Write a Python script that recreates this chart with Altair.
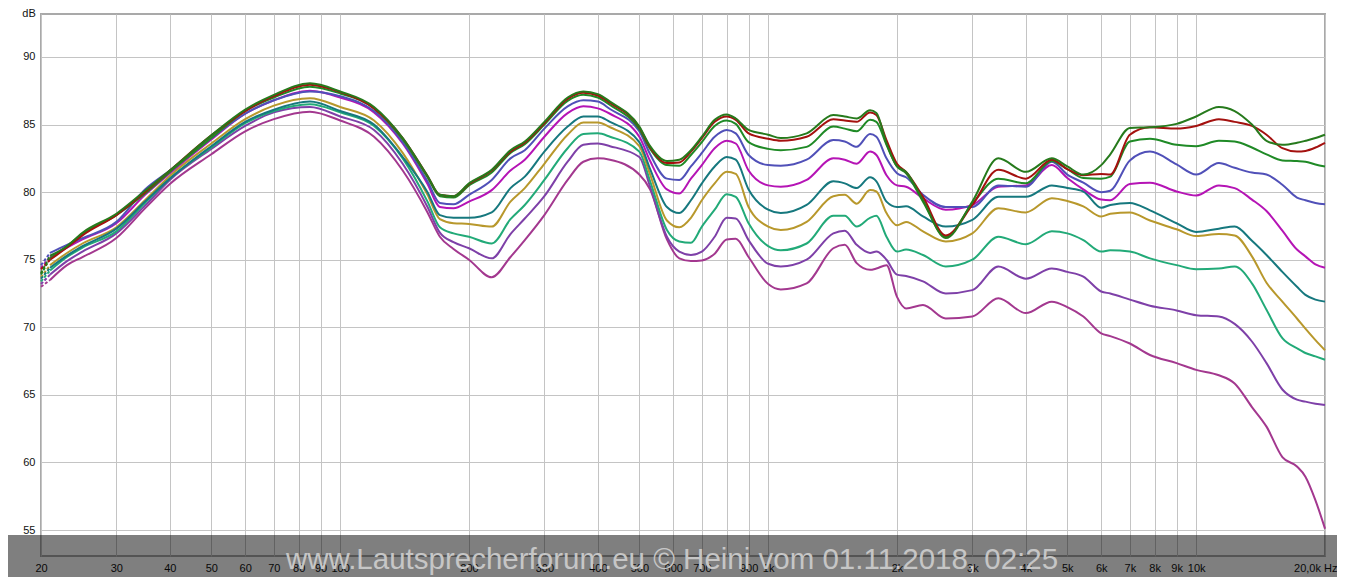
import altair as alt
import pandas as pd

FREQ = [20, 21, 23, 25, 30, 35, 40, 50, 60, 70, 85,
        100, 120, 140, 160, 171, 184, 200, 226, 250, 270,
        300, 340, 370, 400, 427, 500, 530, 580, 620, 660,
        700, 750, 800, 840, 900, 1000, 1070, 1230, 1420, 1510,
        1610, 1730, 1790, 1890, 2000, 2100, 2300, 2600, 3000, 3450,
        4000, 4600, 5000, 5450, 6000, 6300, 7000, 7800, 9000, 10000,
        11300, 12300, 13500, 14600, 15900, 17200, 18000, 19000, 20000]

G1 = [74.0, 75.3, 76.0, 77.0, 78.4, 80.1, 81.6, 84.2, 86.1, 87.2, 88.05,
      87.45, 86.3, 84.0, 81.2, 79.8, 79.7, 80.65, 81.65, 83.1, 83.75,
      85.2, 87.0, 87.45, 87.25, 86.7, 84.85, 83.4, 82.3, 82.4, 83.1,
      84.1, 85.35, 85.75, 85.45, 84.6, 84.25, 84.0, 84.35, 85.7, 85.6,
      85.45, 86.05, 85.85, 83.6, 81.9, 81.5, 79.4, 76.6, 79.3, 82.5,
      81.5, 82.5, 81.9, 81.3, 82.0, 82.8, 84.75, 84.8, 85.05, 85.6,
      86.3, 86.0, 85.0, 83.8, 83.5, 83.65, 83.8, 84.0, 84.25]

R = [74.3, 75.0, 75.9, 76.8, 78.3, 80.0, 81.6, 84.2, 86.0, 87.1, 87.95,
     87.4, 86.2, 84.0, 81.2, 79.8, 79.7, 80.6, 81.6, 83.0, 83.65,
     85.1, 86.9, 87.35, 87.15, 86.6, 84.8, 83.3, 82.15, 82.2, 83.0,
     84.0, 85.2, 85.6, 85.35, 84.35, 83.95, 83.8, 84.1, 85.4, 85.3,
     85.2, 85.9, 85.7, 83.85, 82.1, 81.5, 79.65, 76.8, 79.05, 81.65,
     81.0, 82.4, 81.7, 81.25, 81.35, 81.3, 84.25, 84.8, 84.7, 84.9,
     85.4, 85.2, 84.9, 84.25, 83.25, 83.0, 83.05, 83.3, 83.65]

G2 = [73.9, 75.1, 76.0, 76.9, 78.3, 79.9, 81.5, 84.0, 86.0, 87.0, 87.8,
      87.3, 86.2, 83.9, 81.1, 79.7, 79.6, 80.5, 81.45, 82.9, 83.55,
      85.0, 86.75, 87.2, 87.0, 86.45, 84.65, 83.2, 82.0, 81.95, 82.75,
      83.7, 84.9, 85.3, 85.05, 83.7, 83.2, 83.1, 83.35, 84.85, 84.7,
      84.5, 85.35, 85.2, 83.5, 81.9, 81.4, 79.3, 76.7, 79.15, 81.0,
      80.65, 82.3, 81.7, 81.05, 81.0, 81.15, 83.75, 83.95, 83.5, 83.4,
      83.8, 83.75, 83.3, 82.8, 82.35, 82.3, 82.25, 82.05, 81.9]

B = [74.6, 75.5, 76.1, 76.6, 77.8, 80.2, 81.6, 84.0, 85.8, 86.8, 87.45,
     87.1, 86.0, 83.7, 80.8, 79.2, 79.1, 79.8, 80.9, 82.5, 83.1,
     84.7, 86.35, 86.8, 86.7, 86.15, 84.5, 82.8, 81.0, 80.9, 81.9,
     82.9, 84.1, 84.6, 84.35, 82.75, 82.0, 81.95, 82.4, 83.85, 83.75,
     83.35, 84.3, 84.1, 82.5, 81.4, 81.1, 79.8, 78.9, 78.9, 80.5,
     80.4, 82.25, 81.3, 80.7, 80.0, 80.1, 82.35, 83.0, 82.05, 81.3,
     82.15, 81.8, 81.45, 81.3, 80.55, 79.6, 79.4, 79.2, 79.1]

M = [74.4, 75.2, 75.9, 76.5, 77.7, 79.8, 81.4, 83.9, 85.8, 86.8, 87.5,
     87.0, 85.9, 83.6, 80.6, 78.9, 78.8, 79.3, 80.15, 81.6, 82.4,
     84.1, 85.85, 86.35, 86.2, 85.8, 84.1, 82.3, 80.2, 79.9, 81.0,
     82.0, 83.25, 83.8, 83.6, 81.6, 80.5, 80.4, 80.9, 82.5, 82.4,
     82.1, 83.0, 82.75, 81.25, 80.5, 80.4, 79.55, 78.7, 79.05, 80.4,
     80.5, 82.0, 81.05, 80.2, 79.45, 79.4, 80.6, 80.7, 80.05, 79.75,
     80.5, 80.3, 79.45, 78.6, 77.15, 75.75, 75.25, 74.65, 74.4]

T = [73.6, 74.4, 75.3, 76.0, 77.3, 79.3, 81.0, 83.4, 85.2, 86.1, 86.7,
     86.0, 85.0, 82.6, 80.0, 78.3, 78.1, 78.1, 78.5, 80.3, 81.15,
     83.0, 84.85, 85.6, 85.6, 85.2, 83.7, 81.7, 78.9, 78.45, 79.4,
     80.65, 81.9, 82.6, 82.4, 80.2, 78.7, 78.45, 79.05, 80.8, 80.65,
     80.3, 81.1, 80.8, 79.3, 78.9, 78.95, 78.2, 77.45, 77.95, 79.65,
     79.65, 80.5, 80.3, 80.05, 78.85, 79.05, 79.2, 78.65, 77.7, 77.05,
     77.3, 77.45, 76.4, 75.35, 74.1, 73.0, 72.4, 72.05, 71.9]

Y = [73.7, 74.6, 75.5, 76.2, 77.4, 79.4, 81.2, 83.6, 85.4, 86.4, 86.95,
     86.3, 85.3, 82.9, 79.8, 78.0, 77.7, 77.65, 77.45, 79.3, 80.3,
     82.1, 84.25, 85.15, 85.15, 84.8, 83.4, 81.3, 77.9, 77.4, 78.1,
     79.4, 80.65, 81.5, 81.35, 78.9, 77.45, 77.2, 77.8, 79.7, 79.8,
     79.15, 80.15, 80.05, 78.45, 77.55, 77.8, 77.1, 76.35, 76.95, 78.8,
     78.5, 79.55, 79.35, 78.95, 78.2, 78.4, 78.5, 77.9, 77.25, 76.75,
     76.9, 76.8, 75.25, 73.3, 71.9, 70.65, 69.9, 69.05, 68.3]

S = [73.4, 74.2, 75.2, 75.9, 77.1, 79.2, 81.0, 83.3, 85.1, 86.0, 86.5,
     85.9, 84.9, 82.5, 79.3, 77.4, 76.95, 76.7, 76.2, 78.0, 79.05,
     80.9, 83.25, 84.3, 84.35, 84.1, 83.0, 80.8, 77.2, 76.35, 76.25,
     77.45, 78.7, 79.85, 79.65, 77.7, 76.0, 75.7, 76.2, 78.25, 78.25,
     77.45, 78.1, 78.25, 76.7, 75.6, 75.75, 75.35, 74.5, 75.0, 76.7,
     76.15, 77.1, 76.95, 76.45, 75.6, 75.7, 75.6, 75.1, 74.6, 74.3,
     74.35, 74.5, 73.25, 71.3, 69.2, 68.45, 68.1, 67.85, 67.6]

P = [73.2, 73.9, 74.9, 75.6, 76.95, 79.0, 80.9, 83.2, 84.9, 85.9, 86.3,
     85.6, 84.6, 82.1, 78.9, 77.0, 76.3, 75.85, 75.1, 76.9, 78.05,
     79.7, 82.25, 83.5, 83.6, 83.4, 82.6, 80.4, 76.7, 75.6, 75.35,
     75.6, 76.7, 78.1, 78.05, 76.45, 74.7, 74.5, 75.0, 76.95, 77.15,
     76.1, 75.5, 75.6, 75.0, 73.9, 73.8, 73.4, 72.5, 72.75, 74.5,
     73.6, 74.35, 74.1, 73.75, 72.65, 72.5, 72.05, 71.6, 71.25, 70.9,
     70.8, 70.25, 68.95, 67.35, 65.4, 64.65, 64.5, 64.35, 64.25]

K = [73.0, 73.5, 74.6, 75.2, 76.6, 78.8, 80.6, 82.8, 84.5, 85.4, 85.95,
     85.3, 84.1, 81.6, 78.5, 76.7, 75.8, 75.0, 73.7, 75.2, 76.45,
     78.3, 80.9, 82.25, 82.5, 82.4, 81.3, 80.2, 76.5, 75.1, 74.9,
     74.95, 75.45, 76.5, 76.55, 75.2, 73.2, 72.8, 73.25, 75.85, 76.1,
     74.75, 74.25, 74.35, 74.6, 72.25, 71.4, 71.65, 70.65, 70.8, 72.15,
     71.05, 71.9, 71.5, 70.8, 69.55, 69.35, 68.8, 67.95, 67.35, 66.85,
     66.45, 65.85, 64.1, 62.65, 60.4, 59.7, 58.95, 57.2, 55.1]

NAMES = ["K", "P", "S", "Y", "T", "M", "B", "G2", "R", "G1"]
SERIES = [K, P, S, Y, T, M, B, G2, R, G1]
COLORS = ["#a3388f", "#7e40a8", "#22aa78", "#b8982c", "#16787e",
          "#b514b5", "#5050b8", "#1f8a26", "#a4110f", "#267a1c"]

X_TICKS = [20, 30, 40, 50, 60, 70, 80, 90, 100, 200, 300, 400, 500, 600, 700,
           800, 900, 1000, 2000, 3000, 4000, 5000, 6000, 7000, 8000, 9000,
           10000, 20000]
Y_TICKS = [55, 60, 65, 70, 75, 80, 85, 90]
WATERMARK = "www.Lautsprecherforum.eu © Heini  vom 01.11.2018, 02:25"

rows = []
for name, vals in zip(NAMES, SERIES):
    for f, v in zip(FREQ, vals):
        rows.append({"f": f, "db": v, "s": name})
df = pd.DataFrame(rows)

label_expr = ("datum.value >= 20000 ? '20,0k Hz' : datum.value == 800 ? '' : "
              "datum.value >= 1000 ? (datum.value/1000) + 'k' : '' + datum.value")

x = alt.X("f:Q",
          scale=alt.Scale(type="log", domain=[20, 20000], nice=False),
          axis=alt.Axis(values=X_TICKS, labelExpr=label_expr, title=None,
                        grid=True, gridColor="#c4c4c4", gridWidth=1,
                        ticks=False, domain=False, labelOverlap=False,
                        labelFlush=False, labelBound=False,
                        labelFont="Liberation Sans", labelFontSize=11,
                        labelColor="#111111", labelPadding=6,
                        labelAlign={"condition": {"test": "datum.value >= 20000", "value": "right"},
                                    "value": "center"},
                        labelOffset={"condition": {"test": "datum.value >= 20000", "value": 12},
                                     "value": 0}))
y = alt.Y("db:Q",
          scale=alt.Scale(domain=[53.08, 93.18], nice=False, zero=False),
          axis=alt.Axis(values=Y_TICKS, title=None, grid=True,
                        gridColor="#c4c4c4", gridWidth=1, ticks=False,
                        domain=False, labelFont="Liberation Sans",
                        labelFontSize=11, labelColor="#111111",
                        labelPadding=6))
color = alt.Color("s:N", scale=alt.Scale(domain=NAMES, range=COLORS), legend=None)

base = alt.Chart(df)
solid = base.transform_filter("datum.f >= 21").mark_line(
    strokeWidth=2, interpolate="monotone").encode(x=x, y=y, color=color)
dashed = base.transform_filter("datum.f <= 21").mark_line(
    strokeWidth=2, strokeDash=[3, 2]).encode(x=x, y=y, color=color)

one = pd.DataFrame({"v": [0]})
band = alt.Chart(one).mark_rect(color="#000000", opacity=0.5).encode(
    x=alt.value(-40), x2=alt.value(1310), y=alt.value(521), y2=alt.value(590))
wm = alt.Chart(one).mark_text(text=WATERMARK, font="Liberation Sans",
                              fontSize=29.5, color="#c6c6c6", align="center",
                              baseline="alphabetic").encode(
    x=alt.value(631), y=alt.value(555))
db_label = alt.Chart(one).mark_text(text="dB", font="Liberation Sans",
                                    fontSize=11, color="#111111",
                                    align="center", baseline="alphabetic").encode(
    x=alt.value(-12), y=alt.value(3))

chart = alt.layer(solid, dashed, band, wm, db_label).properties(
    width=1284, height=542,
    autosize=alt.AutoSizeParams(type="none"),
    padding={"left": 33, "top": 6, "right": 12, "bottom": 21},
    background="#ffffff",
).configure_view(stroke="#a9a9a9", strokeWidth=2)

chart.save("out.html", embed_options={"renderer": "svg", "actions": False})
